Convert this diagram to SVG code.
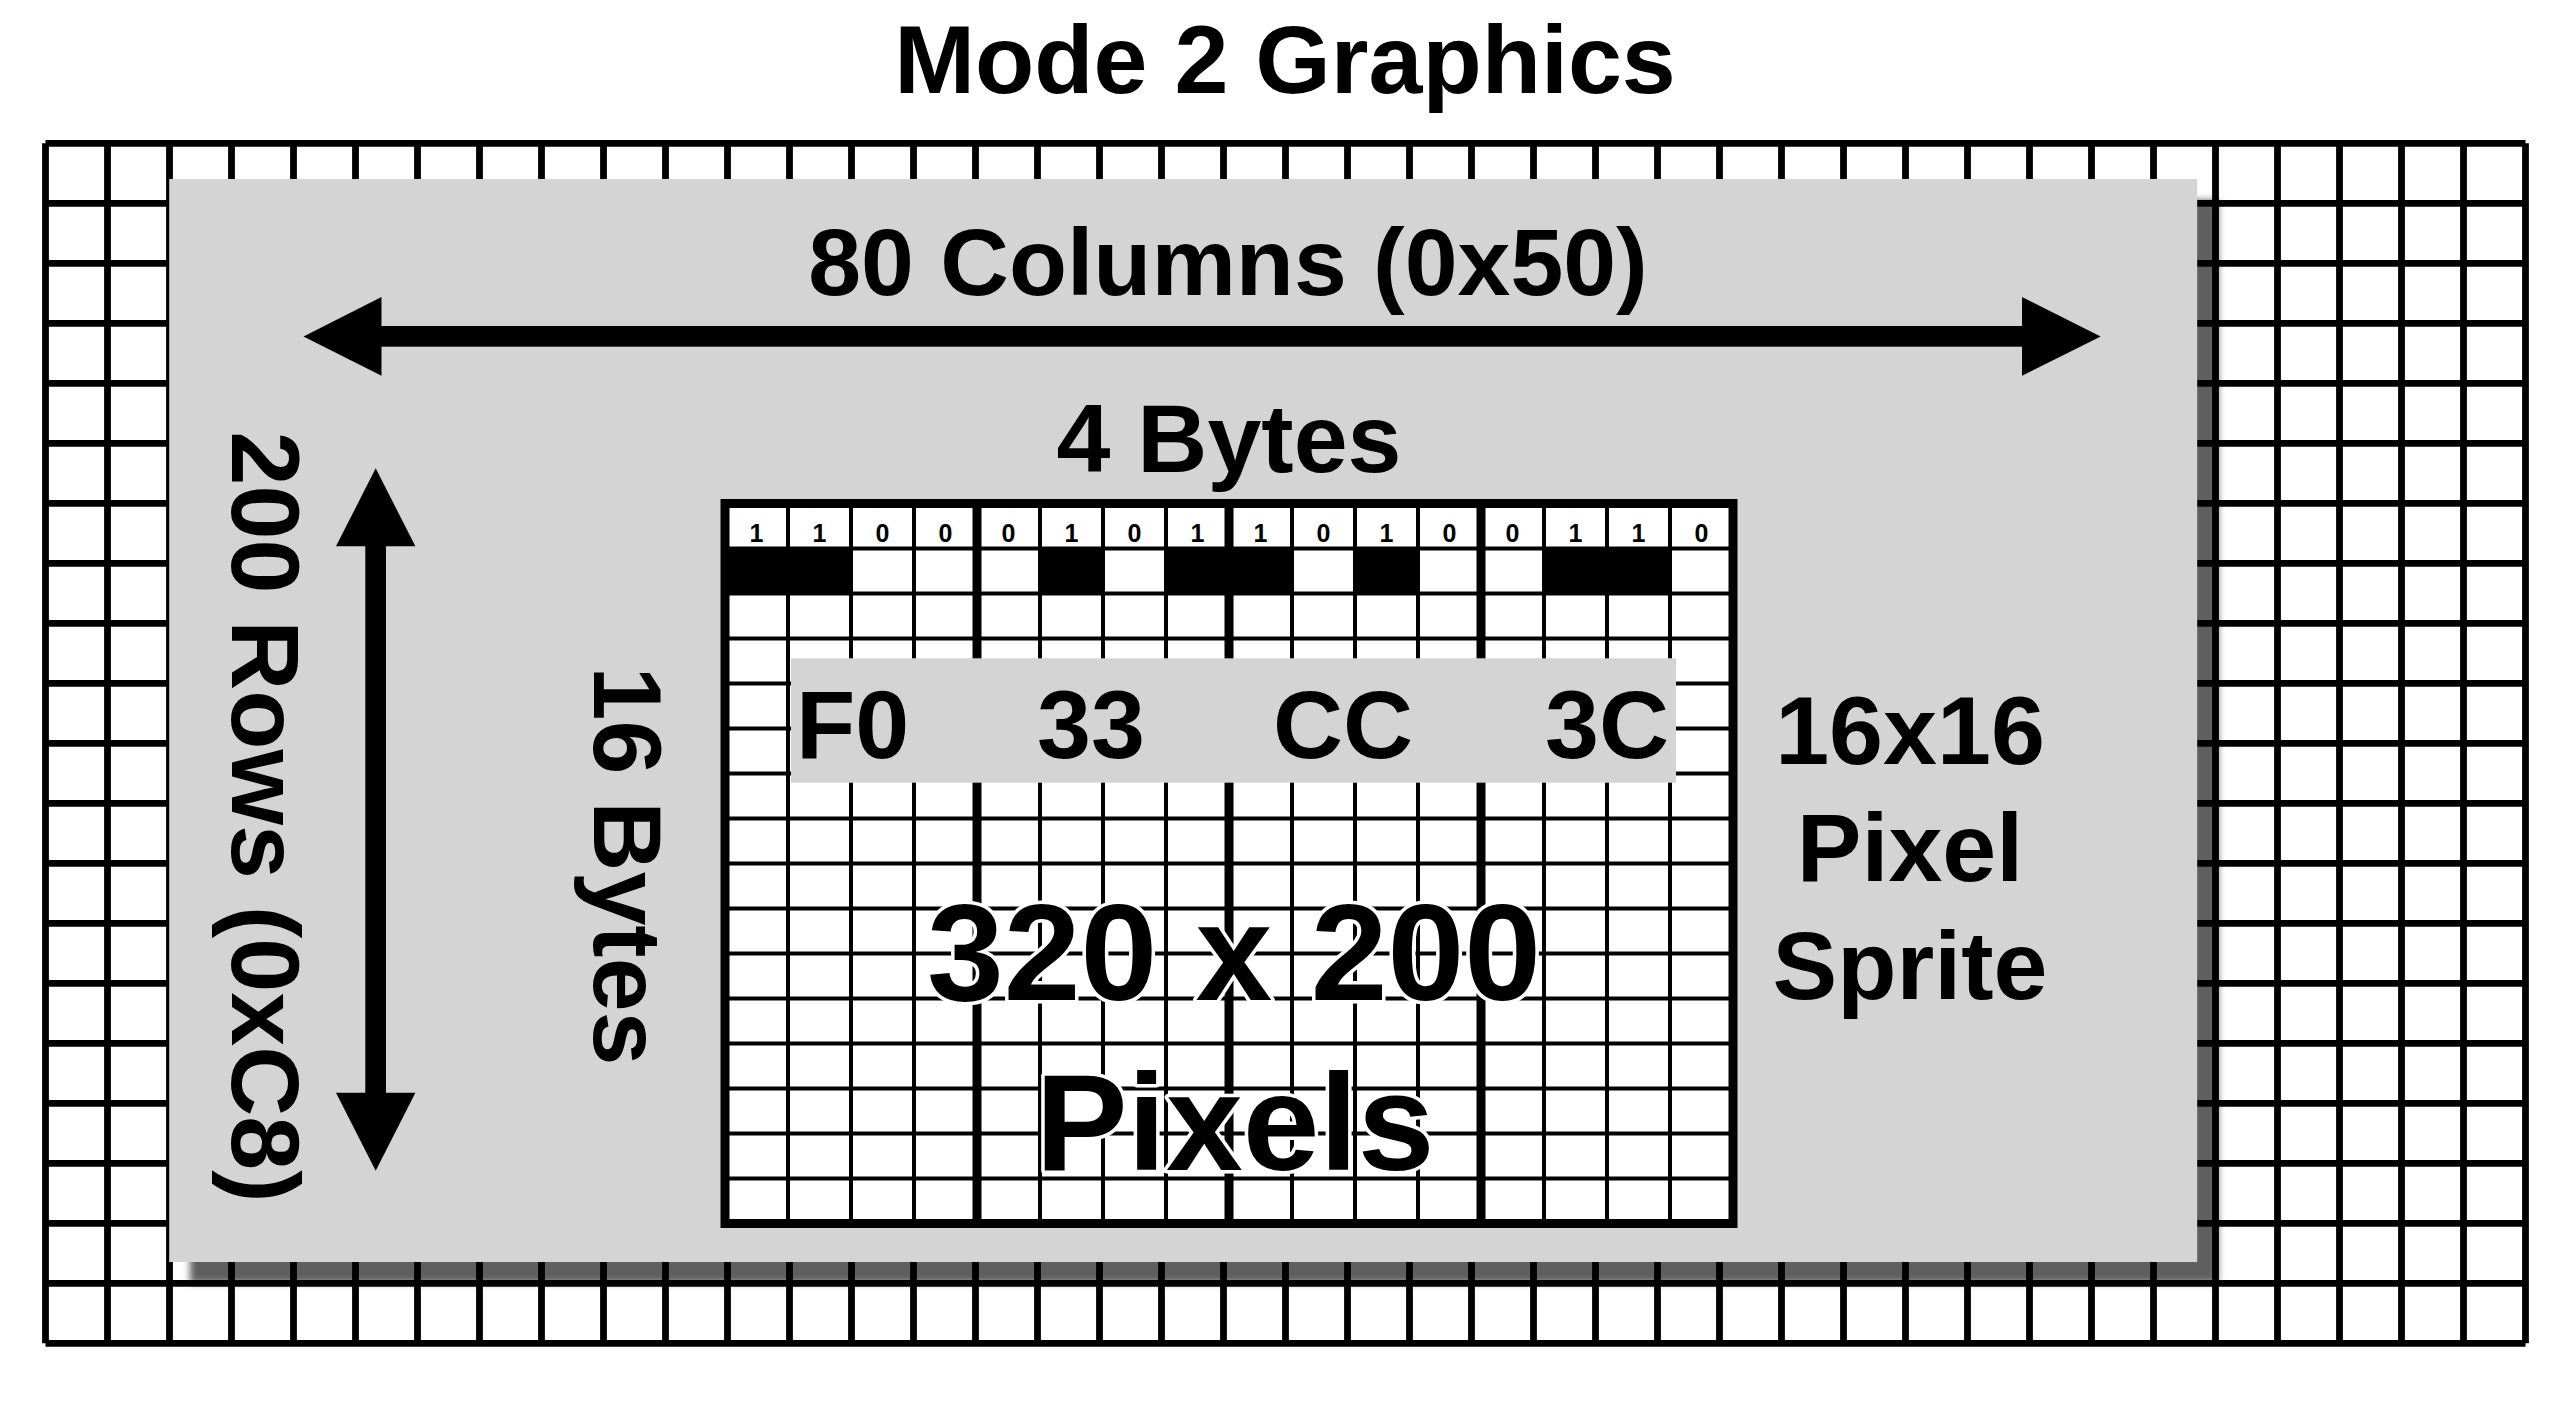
<svg xmlns="http://www.w3.org/2000/svg" width="2570" height="1406" viewBox="0 0 2570 1406">
<style>
text{font-family:"Liberation Sans",Arial,Helvetica,sans-serif;font-weight:700;fill:#000}
.lbl{font-size:97px}
.cols{font-size:95px}
.big{font-size:138px;stroke:#fff;stroke-width:7;paint-order:stroke;stroke-linejoin:round}
.bit{font-size:25px;text-anchor:middle}
.mid{text-anchor:middle}
.grid{fill:none;stroke:#000;stroke-width:6.8}
.thin{fill:none;stroke:#000;stroke-width:4}
.thick{fill:none;stroke:#000;stroke-width:9}
.gray{fill:#d4d4d4}
</style>
<defs>
<filter id="blur" x="-5%" y="-5%" width="110%" height="110%"><feGaussianBlur stdDeviation="3.5"/></filter>
</defs>
<rect width="2570" height="1406" fill="#fff"/>
<g id="title"><text class="lbl mid" x="1285" y="93">Mode 2 Graphics</text></g>
<g id="screen-grid">
<rect x="190" y="200" width="2028" height="1083" fill="#5e5e5e" filter="url(#blur)"/>
<path class="grid" d="M45.5 143.3V1343.3M107.5 143.3V1343.3M169.5 143.3V1343.3M231.5 143.3V1343.3M293.5 143.3V1343.3M355.5 143.3V1343.3M417.5 143.3V1343.3M479.5 143.3V1343.3M541.5 143.3V1343.3M603.5 143.3V1343.3M665.5 143.3V1343.3M727.5 143.3V1343.3M789.5 143.3V1343.3M851.5 143.3V1343.3M913.5 143.3V1343.3M975.5 143.3V1343.3M1037.5 143.3V1343.3M1099.5 143.3V1343.3M1161.5 143.3V1343.3M1223.5 143.3V1343.3M1285.5 143.3V1343.3M1347.5 143.3V1343.3M1409.5 143.3V1343.3M1471.5 143.3V1343.3M1533.5 143.3V1343.3M1595.5 143.3V1343.3M1657.5 143.3V1343.3M1719.5 143.3V1343.3M1781.5 143.3V1343.3M1843.5 143.3V1343.3M1905.5 143.3V1343.3M1967.5 143.3V1343.3M2029.5 143.3V1343.3M2091.5 143.3V1343.3M2153.5 143.3V1343.3M2215.5 143.3V1343.3M2277.5 143.3V1343.3M2339.5 143.3V1343.3M2401.5 143.3V1343.3M2463.5 143.3V1343.3M2525.5 143.3V1343.3M45.5 143.3H2525.5M45.5 203.3H2525.5M45.5 263.3H2525.5M45.5 323.3H2525.5M45.5 383.3H2525.5M45.5 443.3H2525.5M45.5 503.3H2525.5M45.5 563.3H2525.5M45.5 623.3H2525.5M45.5 683.3H2525.5M45.5 743.3H2525.5M45.5 803.3H2525.5M45.5 863.3H2525.5M45.5 923.3H2525.5M45.5 983.3H2525.5M45.5 1043.3H2525.5M45.5 1103.3H2525.5M45.5 1163.3H2525.5M45.5 1223.3H2525.5M45.5 1283.3H2525.5M45.5 1343.3H2525.5"/>
</g>
<g id="screen-area">
<rect class="gray" x="169.2" y="179" width="2028" height="1083"/>
</g>
<g id="labels">
<text class="cols mid" x="1228" y="295">80 Columns (0x50)</text>
<text class="lbl mid" x="1229" y="471.7">4 Bytes</text>
<text class="lbl mid" transform="translate(231.7 817) rotate(90)">200 Rows (0xC8)</text>
<text class="lbl mid" transform="translate(593.5 866) rotate(90)">16 Bytes</text>
<text class="lbl mid" x="1910" y="764">16x16</text>
<text class="lbl mid" x="1910" y="881">Pixel</text>
<text class="lbl mid" x="1910" y="999">Sprite</text>
</g>
<g id="connectors">
<rect x="381" y="326" width="1641" height="20.7"/>
<polygon points="303.5,336.4 381.5,297 381.5,375.7"/>
<polygon points="2100.7,336.4 2022,297 2022,375.7"/>
<rect x="365.3" y="545" width="20.7" height="549"/>
<polygon points="375.7,468.3 336,546.3 415.4,546.3"/>
<polygon points="375.7,1170.7 336,1092.7 415.4,1092.7"/>
</g>
<g id="sprite">
<rect x="725" y="503.5" width="1008" height="720" fill="#fff"/>
<g id="pixel-row">
<rect x="725" y="548.5" width="126" height="45"/>
<rect x="1040" y="548.5" width="63" height="45"/>
<rect x="1166" y="548.5" width="126" height="45"/>
<rect x="1355" y="548.5" width="63" height="45"/>
<rect x="1544" y="548.5" width="126" height="45"/>
</g>
<path class="thin" d="M788 503.5V1223.5M851 503.5V1223.5M914 503.5V1223.5M1040 503.5V1223.5M1103 503.5V1223.5M1166 503.5V1223.5M1292 503.5V1223.5M1355 503.5V1223.5M1418 503.5V1223.5M1544 503.5V1223.5M1607 503.5V1223.5M1670 503.5V1223.5M725 548.5H1733M725 593.5H1733M725 638.5H1733M725 683.5H1733M725 728.5H1733M725 773.5H1733M725 818.5H1733M725 863.5H1733M725 908.5H1733M725 953.5H1733M725 998.5H1733M725 1043.5H1733M725 1088.5H1733M725 1133.5H1733M725 1178.5H1733"/>
<path class="thick" d="M977 503.5V1223.5M1229 503.5V1223.5M1481 503.5V1223.5"/>
<rect class="thick" x="725" y="503.5" width="1008" height="720"/>
<g id="bits">
<text class="bit" x="756.5" y="541.7">1</text>
<text class="bit" x="819.5" y="541.7">1</text>
<text class="bit" x="882.5" y="541.7">0</text>
<text class="bit" x="945.5" y="541.7">0</text>
<text class="bit" x="1008.5" y="541.7">0</text>
<text class="bit" x="1071.5" y="541.7">1</text>
<text class="bit" x="1134.5" y="541.7">0</text>
<text class="bit" x="1197.5" y="541.7">1</text>
<text class="bit" x="1260.5" y="541.7">1</text>
<text class="bit" x="1323.5" y="541.7">0</text>
<text class="bit" x="1386.5" y="541.7">1</text>
<text class="bit" x="1449.5" y="541.7">0</text>
<text class="bit" x="1512.5" y="541.7">0</text>
<text class="bit" x="1575.5" y="541.7">1</text>
<text class="bit" x="1638.5" y="541.7">1</text>
<text class="bit" x="1701.5" y="541.7">0</text>
</g>
<g id="byte-values">
<rect class="gray" x="791" y="658.3" width="885" height="124.4"/>
<text class="lbl" x="796" y="758.3">F0</text>
<text class="lbl" x="1037" y="758.3">33</text>
<text class="lbl" x="1273" y="758.3">CC</text>
<text class="lbl" x="1545" y="758.3">3C</text>
</g>
<text class="big mid" x="1234" y="1000">320 x 200</text>
<text class="big mid" x="1235" y="1170">Pixels</text>
</g>
</svg>
